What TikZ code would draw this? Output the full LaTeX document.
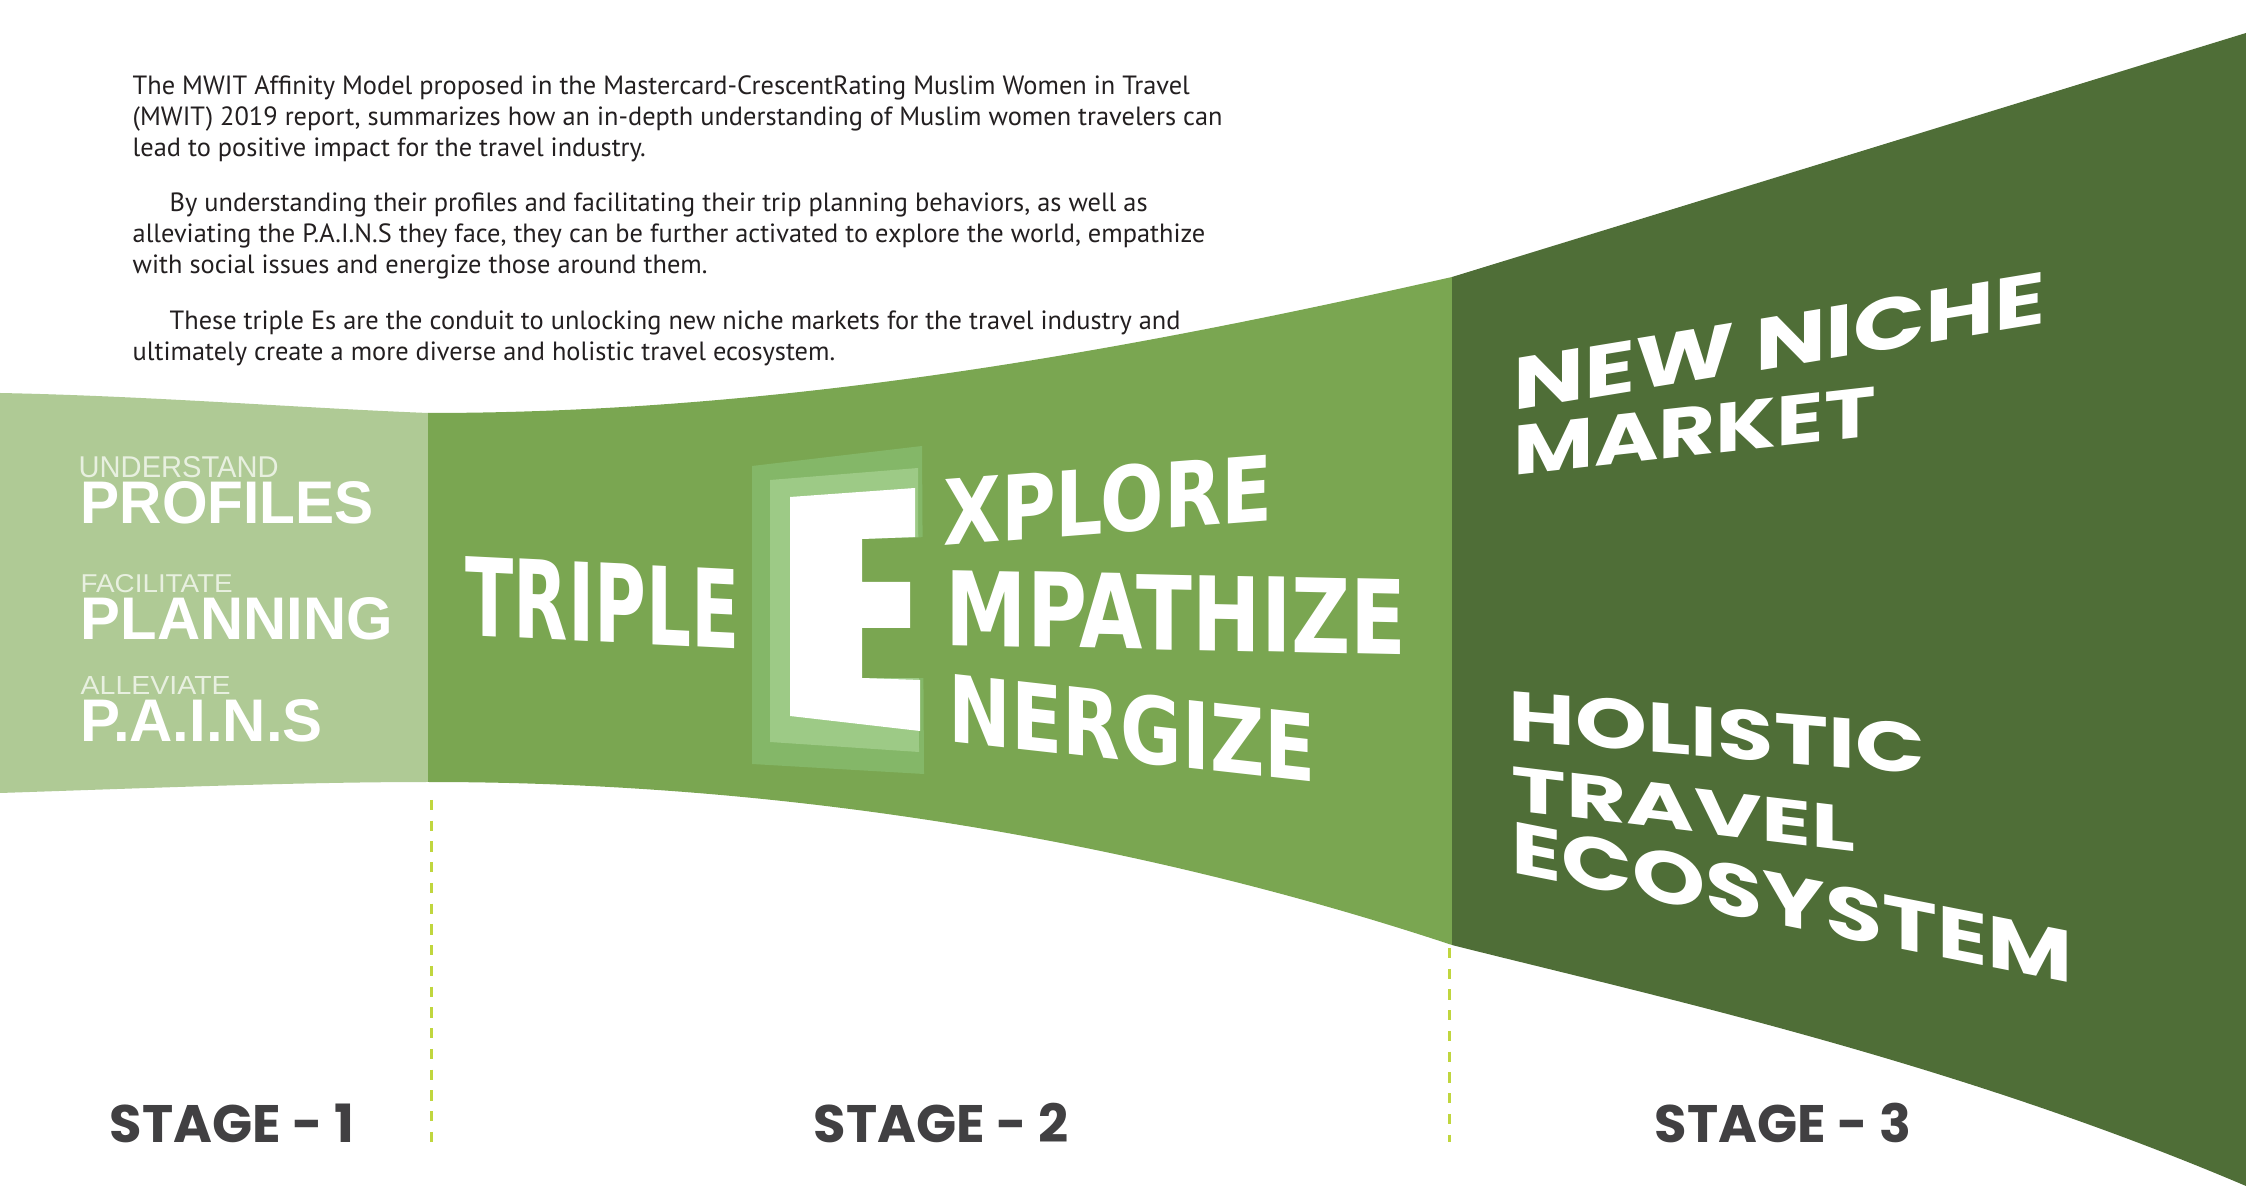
\documentclass[tikz,border=0pt]{standalone}
\usepackage{fontspec}
\setmainfont{PT Sans}
\newfontfamily\hfont{Liberation Sans}
\newfontfamily\dfont{DejaVu Sans}
\newfontfamily\pfont{Poppins}
\newdimen\pxu \pxu=0.01cm
\newcommand\fitbox[3]{\resizebox{#1\pxu}{#2\pxu}{#3}}
\definecolor{gLight}{HTML}{AFCA95}
\definecolor{gMid}{HTML}{7AA651}
\definecolor{gDark}{HTML}{4F6E37}
\definecolor{panelOut}{HTML}{84B768}
\definecolor{panelIn}{HTML}{9DCA86}
\definecolor{bodyText}{HTML}{231F20}
\definecolor{stageGray}{HTML}{414042}
\definecolor{dashLime}{HTML}{C0D63E}
\definecolor{softWhite}{HTML}{E8F0E0}
\begin{document}
\begin{tikzpicture}[x=0.01cm,y=-0.01cm,
  bodyline/.style={anchor=base west, inner sep=0pt, text=bodyText, text height=5.8pt, text depth=1.6pt, font=\fontsize{7.5}{9}\selectfont},
  stagelbl/.style={anchor=base, inner sep=0pt, text=stageGray, font=\pfont\bfseries\fontsize{15}{18}\selectfont},
  smallword/.style={anchor=base west, inner sep=0pt, text=softWhite, font=\hfont},
  bigword/.style={anchor=base west, inner sep=0pt, text=white, font=\hfont\bfseries},
  eword/.style={anchor=base west, inner sep=0pt, text=white, font=\dfont\bfseries, transform shape},
  nicheword/.style={anchor=base west, inner sep=0pt, text=white, font=\pfont\bfseries, transform shape},
  divider/.style={draw=dashLime, line width=0.85pt, dash pattern=on 2.85pt off 3.05pt}
]
\useasboundingbox (0,0) rectangle (2246,1186);
\fill[white] (0,0) rectangle (2246,1186);

% bands
\fill[gLight] (0,393) .. controls (150,396) and (300,408) .. (428,413)
  -- (428,782) .. controls (300,782) and (150,788) .. (0,793) -- cycle;
\fill[gMid] (428,413) .. controls (800,413) and (1150,345) .. (1452,277)
  -- (1452,945) .. controls (1150,845) and (800,782) .. (428,782) -- cycle;
\fill[gDark] (1452,277) -- (2246,33) -- (2246,1186)
  .. controls (1950,1060) and (1650,995) .. (1452,945) -- cycle;

% body text
\node[bodyline] (p1) at (132,95) {The MWIT Affinity Model proposed in the Mastercard-CrescentRating Muslim Women in Travel};
\node[bodyline] (p2) at (132,126) {(MWIT) 2019 report, summarizes how an in-depth understanding of Muslim women travelers can};
\node[bodyline] (p3) at (132,156.5) {lead to positive impact for the travel industry.};
\node[bodyline] (p4) at (169,212) {By understanding their profiles and facilitating their trip planning behaviors, as well as};
\node[bodyline] (p5) at (132,243) {alleviating the P.A.I.N.S they face, they can be further activated to explore the world, empathize};
\node[bodyline] (p6) at (132,274) {with social issues and energize those around them.};
\node[bodyline] (p7) at (169,330) {These triple Es are the conduit to unlocking new niche markets for the travel industry and};
\node[bodyline] (p8) at (132,361) {ultimately create a more diverse and holistic travel ecosystem.};

% stage 1 words
\node[smallword] (u1) at (78,478) {\fitbox{200}{21}{UNDERSTAND}};
\node[bigword] (u2) at (80,524) {\fitbox{293}{42}{PROFILES}};
\node[smallword] (f1) at (80,593) {\fitbox{152}{18}{FACILITATE}};
\node[bigword] (f2) at (80,640) {\fitbox{312}{42}{PLANNING}};
\node[smallword] (a1) at (80,695) {\fitbox{150}{18}{ALLEVIATE}};
\node[bigword] (a2) at (80,742) {\fitbox{242}{42}{P.A.I.N.S}};

% big E with panels
\fill[panelOut] (752,466) -- (922,446) -- (924,774) -- (752,764) -- cycle;
\fill[panelIn] (770,480) -- (918,468) -- (919,752) -- (770,742) -- cycle;
\fill[gMid] (862,539) -- (930,537) -- (930,678) -- (862,678) -- cycle;
\fill[white] (790,497) -- (915,488) -- (915,537) -- (862,539) -- (862,582)
  -- (910,582) -- (910,628) -- (862,628) -- (862,678) -- (920,680)
  -- (920,731) -- (790,716) -- cycle;

% stage 2 words
\node[eword, yslant=-0.05] (tri) at (465,635) {\fitbox{274}{79}{TRIPLE}};
\node[eword, yslant=0.078] (xpl) at (943,546) {\fitbox{329}{67}{XPLORE}};
\node[eword, yslant=-0.022] (mpa) at (945,645) {\fitbox{461}{75}{MPATHIZE}};
\node[eword, yslant=-0.112] (ner) at (948,741) {\fitbox{367}{69}{NERGIZE}};

% stage 3 words
\node[nicheword, yslant=0.164] (nn) at (1513,411) {\fitbox{532}{52}{NEW NICHE}};
\node[nicheword, yslant=0.112] (mk) at (1513,476) {\fitbox{362}{49}{MARKET}};
\node[nicheword, yslant=-0.083] (ho) at (1508,740) {\fitbox{416}{50}{HOLISTIC}};
\node[nicheword, yslant=-0.12] (tv) at (1511,810) {\fitbox{344}{44}{TRAVEL}};
\node[nicheword, yslant=-0.198] (ec) at (1511,872) {\fitbox{561}{52}{ECOSYSTEM}};

% dividers
\coordinate (d1a) at (431,800);
\coordinate (d1b) at (431,1142);
\coordinate (d2a) at (1449,948);
\coordinate (d2b) at (1449,1142);
\draw[divider] (d1a) -- (d1b);
\draw[divider] (d2a) -- (d2b);

% stage labels
\node[stagelbl] (s1) at (232,1142) {STAGE - 1};
\node[stagelbl] (s2) at (941,1142) {STAGE - 2};
\node[stagelbl] (s3) at (1783,1142) {STAGE - 3};
\end{tikzpicture}
\end{document}
